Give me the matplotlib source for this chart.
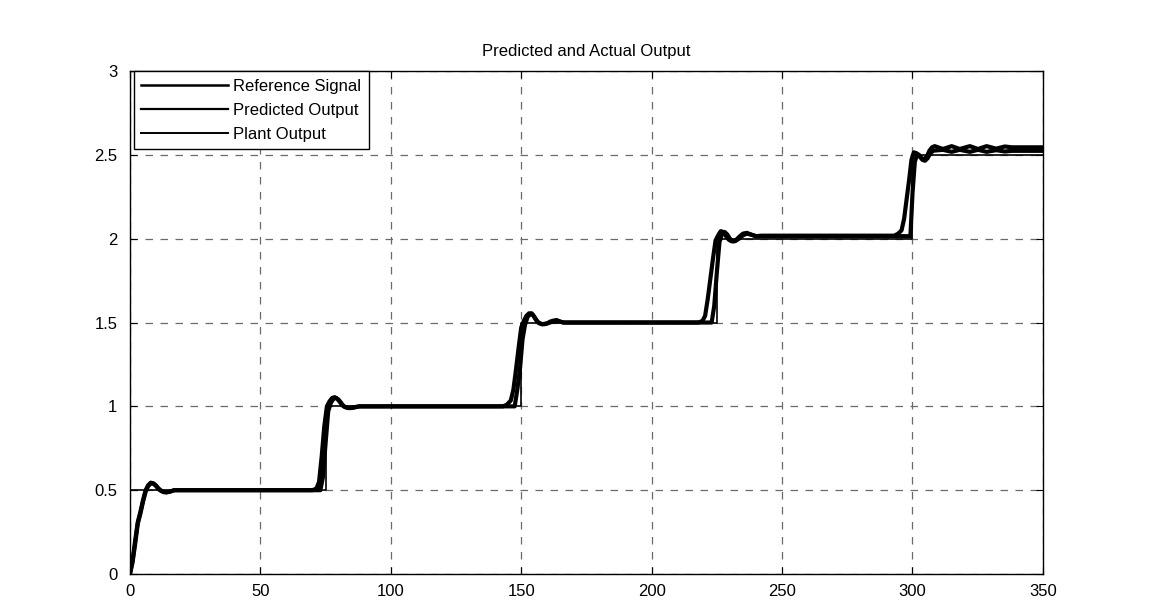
import numpy as np
import matplotlib.pyplot as plt

# reference (setpoint) signal, step changes
ref_t = [0, 75, 150, 225, 300, 350]
ref_v = [0.5, 1.0, 1.5, 2.0, 2.5, 2.5]

# predicted output
pred_t = [0, 1, 2, 3, 4, 5, 6, 7, 8, 9, 10, 11, 12, 13, 14, 15, 16, 17, 18,
          70, 71.5, 72.5, 73.5, 74.5, 75.5, 76.5, 77.5, 78.5, 79.5, 80.5, 81.5, 82.5, 83.5, 85, 86.5, 88,
          143, 144.5, 146, 147, 148, 149, 150, 151, 152, 153, 154, 155, 156, 157, 158, 159, 160, 161, 162,
          163.5, 165, 166.5,
          218, 219.5, 220.5, 221.5, 222.5, 223.5, 224.5, 225.5, 226.5, 227.5, 228.5, 229.5, 230.5, 231.5,
          232.5, 233.5, 235, 236.5, 238, 240, 242,
          293, 294.5, 295.8, 296.8, 297.7, 298.7, 299.6, 300.5, 301.5, 302.5, 303.5, 304.5, 305.5, 306.5,
          307.5, 308.5, 311.7, 315, 318.1, 322, 325.1, 328.4, 332.1, 335.4, 338, 350]
pred_v = [0, 0.08, 0.2, 0.31, 0.37, 0.44, 0.5, 0.53, 0.545, 0.54, 0.525, 0.505, 0.495, 0.488, 0.487, 0.49,
          0.495, 0.5, 0.5,
          0.5, 0.51, 0.55, 0.7, 0.88, 1.0, 1.03, 1.05, 1.055, 1.045, 1.025, 1.005, 0.995, 0.99, 0.99, 0.995, 1.0,
          1.0, 1.01, 1.035, 1.1, 1.22, 1.35, 1.47, 1.51, 1.54, 1.555, 1.555, 1.535, 1.51, 1.495, 1.49, 1.49,
          1.495, 1.505, 1.51, 1.515, 1.505, 1.5,
          1.5, 1.51, 1.54, 1.64, 1.76, 1.88, 1.99, 2.02, 2.045, 2.04, 2.015, 1.995, 1.985, 1.985,
          1.995, 2.01, 2.03, 2.035, 2.025, 2.015, 2.018,
          2.018, 2.03, 2.05, 2.12, 2.23, 2.35, 2.47, 2.515, 2.51, 2.5, 2.48, 2.475, 2.49, 2.525,
          2.545, 2.552, 2.535, 2.552, 2.535, 2.552, 2.535, 2.552, 2.537, 2.55, 2.545, 2.545]

# plant output
plant_t = [0, 1, 2, 3, 4, 5, 6, 7, 8, 9, 10, 11, 12, 13, 14, 15, 16, 17, 18,
           73, 74, 75, 76, 77, 78, 79, 80, 81, 82, 84, 86, 88,
           147.5, 148.5, 149.5, 150.5, 151.5, 152.5, 153.5, 154.5, 155.5, 156.5, 158, 160, 162, 164, 166,
           223, 224, 225, 226, 227, 228, 229, 230, 231, 232, 233.5, 235, 236.5, 238, 240,
           299.2, 300, 300.9, 301.8, 302.8, 303.8, 304.8, 305.8, 306.8, 308, 311.7, 315, 318.1, 322,
           325.1, 328.4, 332.1, 335.4, 338, 350]
plant_v = [0, 0.07, 0.18, 0.3, 0.36, 0.43, 0.49, 0.525, 0.54, 0.54, 0.528, 0.51, 0.497, 0.49, 0.488, 0.49,
           0.495, 0.5, 0.5,
           0.5, 0.58, 0.78, 0.97, 1.02, 1.045, 1.05, 1.04, 1.02, 1.0, 0.99, 0.995, 1.0,
           1.0, 1.1, 1.22, 1.4, 1.49, 1.535, 1.55, 1.545, 1.52, 1.5, 1.49, 1.495, 1.505, 1.51, 1.5,
           1.5, 1.6, 1.8, 1.98, 2.03, 2.04, 2.025, 2.0, 1.985, 1.985, 2.0, 2.02, 2.03, 2.025, 2.015,
           2.015, 2.27, 2.46, 2.5, 2.49, 2.47, 2.465, 2.48, 2.51, 2.525, 2.53, 2.518, 2.53, 2.518,
           2.53, 2.518, 2.528, 2.52, 2.524, 2.524]

plt.rcParams['font.family'] = ['Liberation Sans', 'DejaVu Sans']

fig = plt.figure(figsize=(11.51, 6.05), dpi=100)
ax = fig.add_axes([0.1129, 0.0512, 0.7932, 0.8314])

ax.step(ref_t, ref_v, where='post', color='black', lw=1.2, label='Reference Signal')
ax.plot(pred_t, pred_v, color='black', lw=3, label='Predicted Output')
ax.plot(plant_t, plant_v, color='black', lw=3, label='Plant Output')

ax.set_xlim(0, 350)
ax.set_ylim(0, 3)
ax.set_xticks(np.arange(0, 351, 50))
ax.set_yticks([0, 0.5, 1, 1.5, 2, 2.5, 3])
ax.set_yticklabels(['0', '0.5', '1', '1.5', '2', '2.5', '3'])
ax.tick_params(direction='in', top=True, right=True, length=5, width=0.8, labelsize=12)
ax.tick_params(axis='y', pad=9)
ax.tick_params(axis='x', pad=7)
ax.grid(True, color='#6a6a6a', lw=0.9, linestyle=(0, (6, 6)))
for s in ax.spines.values():
    s.set_linewidth(1.0)

ax.set_title('Predicted and Actual Output', fontsize=12, pad=11)

leg = ax.legend(loc='upper left', bbox_to_anchor=(0.0044, 1.0), borderaxespad=0,
                fancybox=False, edgecolor='black', framealpha=1, fontsize=12,
                handlelength=5.2, handletextpad=0.3, labelspacing=0.55, borderpad=0.45)
leg.get_frame().set_linewidth(1.0)
for ln, w in zip(leg.get_lines(), [1.8, 1.6, 1.4]):
    ln.set_linewidth(w)

fig.savefig('out.png', dpi=100)
